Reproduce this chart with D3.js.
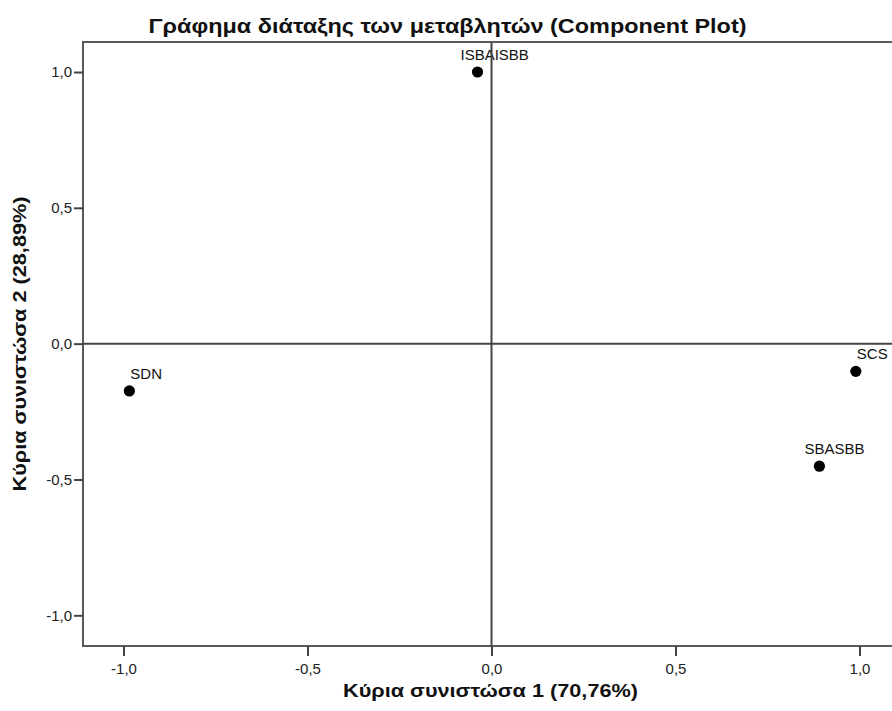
<!DOCTYPE html>
<html><head><meta charset="utf-8">
<script src="https://cdn.jsdelivr.net/npm/d3@7"></script>
<style>body{margin:0;background:#fff}svg{display:block}</style>
</head><body>
<script>
const labels = ["ISBAISBB", "SDN", "SCS", "SBASBB"];
const comp1 = [-0.038, -0.984, 0.990, 0.891];
const comp2 = [1.000, -0.174, -0.102, -0.451];
const tickValues = [-1.0, -0.5, 0.0, 0.5, 1.0];
const tickLabels = ["-1,0", "-0,5", "0,0", "0,5", "1,0"];
const title = "Γράφημα διάταξης των μεταβλητών (Component Plot)";
const xTitle = "Κύρια συνιστώσα 1 (70,76%)";
const yTitle = "Κύρια συνιστώσα 2 (28,89%)";

const W = 892, H = 711;
const svg = d3.select("body").append("svg").attr("width", W).attr("height", H);
const font = "'Liberation Sans', Arial, sans-serif";
const pL = 83, pT = 42, pB = 646, pR = 900;
const x = d3.scaleLinear().domain([-1.11, 1.11]).range([pL, pR]);
const y = d3.scaleLinear().domain([-1.113, 1.1105]).range([pB, pT]);

// frame
svg.append("rect").attr("x", pL).attr("y", pT).attr("width", pR - pL).attr("height", pB - pT)
  .attr("fill", "none").attr("stroke", "#5a5a5a").attr("stroke-width", 2);

const fmt = d => tickLabels[tickValues.indexOf(d)];
const xAxis = svg.append("g").attr("transform", `translate(0,${pB})`)
  .call(d3.axisBottom(x).tickValues(tickValues).tickFormat(fmt).tickSize(10).tickPadding(7));
const yAxis = svg.append("g").attr("transform", `translate(${pL},0)`)
  .call(d3.axisLeft(y).tickValues(tickValues).tickFormat(fmt).tickSize(9).tickPadding(2));
[xAxis, yAxis].forEach(g => {
  g.select(".domain").remove();
  g.selectAll(".tick line").attr("stroke", "#444").attr("stroke-width", 2);
  g.selectAll(".tick text").attr("fill", "#222").style("font-family", font).style("font-size", "15px");
});

// points and labels
const data = labels.map((l, i) => ({l, a: comp1[i], b: comp2[i]}));
const labelDx = {"ISBAISBB": -17, "SDN": 1, "SCS": 1, "SBASBB": -15};
svg.selectAll("circle.pt").data(data).enter().append("circle").attr("class", "pt")
  .attr("cx", d => x(d.a)).attr("cy", d => y(d.b)).attr("r", 5.6).attr("fill", "#000");
svg.selectAll("text.lbl").data(data).enter().append("text").attr("class", "lbl")
  .attr("x", d => x(d.a) + labelDx[d.l]).attr("y", d => y(d.b) - 12)
  .style("font-family", font).style("font-size", "15px").attr("fill", "#111").text(d => d.l);

// zero lines (drawn over labels as in the reference)
svg.append("line").attr("x1", x(0)).attr("x2", x(0)).attr("y1", pT).attr("y2", pB)
  .attr("stroke", "#444").attr("stroke-width", 2);
svg.append("line").attr("x1", pL).attr("x2", pR).attr("y1", y(0)).attr("y2", y(0))
  .attr("stroke", "#444").attr("stroke-width", 2);

// titles
svg.append("text").attr("x", 447.5).attr("y", 33).attr("text-anchor", "middle")
  .attr("textLength", 598).attr("lengthAdjust", "spacingAndGlyphs")
  .style("font-family", font).style("font-size", "21px").style("font-weight", "bold").attr("fill", "#111").text(title);
svg.append("text").attr("x", (pL + pR) / 2 - 1).attr("y", 697).attr("text-anchor", "middle")
  .attr("textLength", 295).attr("lengthAdjust", "spacingAndGlyphs")
  .style("font-family", font).style("font-size", "18.5px").style("font-weight", "bold").attr("fill", "#111").text(xTitle);
svg.append("text").attr("transform", `translate(26,${(pT + pB) / 2}) rotate(-90)`).attr("text-anchor", "middle")
  .attr("textLength", 295).attr("lengthAdjust", "spacingAndGlyphs")
  .style("font-family", font).style("font-size", "18.5px").style("font-weight", "bold").attr("fill", "#111").text(yTitle);
</script>
</body></html>
